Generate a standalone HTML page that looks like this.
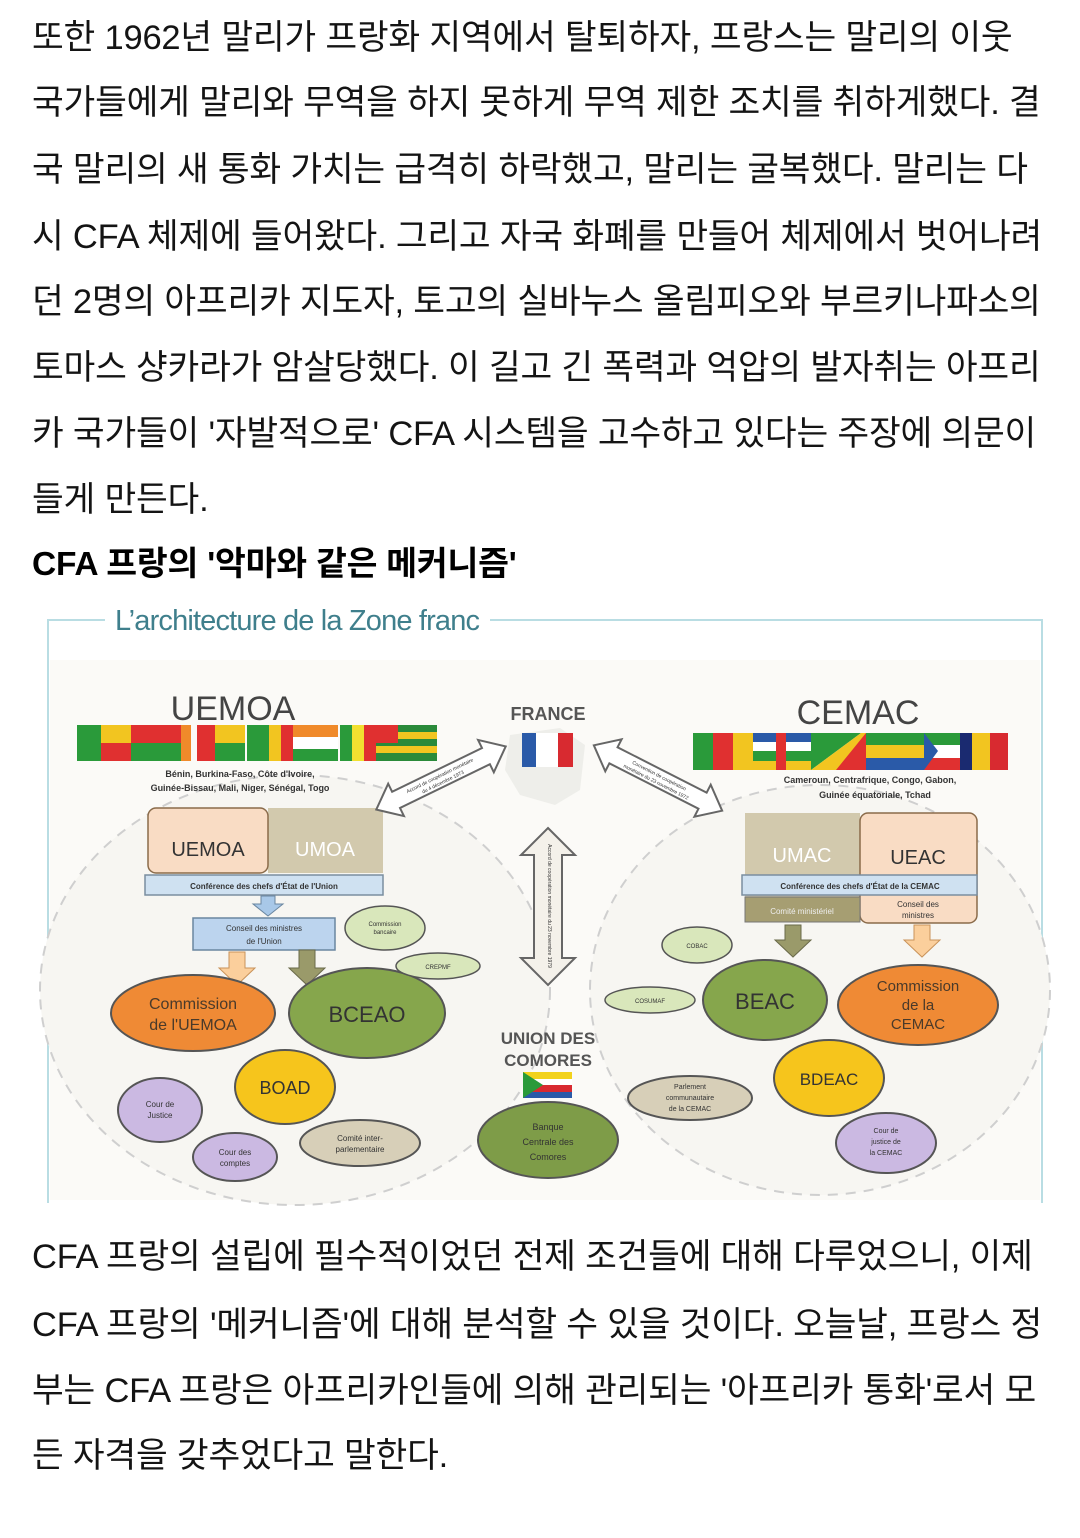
<!DOCTYPE html>
<html><head><meta charset="utf-8">
<style>
body{margin:0;width:1080px;height:1538px;background:#fff;position:relative;overflow:hidden;font-family:"Liberation Sans","Noto Sans CJK KR",sans-serif;}
.l{position:absolute;left:32px;white-space:nowrap;font-size:34.5px;line-height:66px;height:66px;color:#141414;letter-spacing:-0.2px}
.h{font-weight:bold;color:#000;font-size:33.5px}
svg{position:absolute;left:0;top:0}
</style></head><body>
<div class="l" style="top:5px">또한 1962년 말리가 프랑화 지역에서 탈퇴하자, 프랑스는 말리의 이웃</div>
<div class="l" style="top:70px">국가들에게 말리와 무역을 하지 못하게 무역 제한 조치를 취하게했다. 결</div>
<div class="l" style="top:137px">국 말리의 새 통화 가치는 급격히 하락했고, 말리는 굴복했다. 말리는 다</div>
<div class="l" style="top:204px">시 CFA 체제에 들어왔다. 그리고 자국 화폐를 만들어 체제에서 벗어나려</div>
<div class="l" style="top:269px">던 2명의 아프리카 지도자, 토고의 실바누스 올림피오와 부르키나파소의</div>
<div class="l" style="top:335px">토마스 샹카라가 암살당했다. 이 길고 긴 폭력과 억압의 발자취는 아프리</div>
<div class="l" style="top:401px">카 국가들이 '자발적으로' CFA 시스템을 고수하고 있다는 주장에 의문이</div>
<div class="l" style="top:467px">들게 만든다.</div>
<div class="l h" style="top:532px">CFA 프랑의 '악마와 같은 메커니즘'</div>

<svg width="1080" height="1538" viewBox="0 0 1080 1538" font-family="Liberation Sans, sans-serif">
<path d="M48 1203 V620 H105 M490 620 H1042 V1203" fill="none" stroke="#b9dde3" stroke-width="2"/>
<text x="115" y="630" font-size="29" fill="#3f7f8c" font-family="Liberation Sans Narrow, Liberation Sans, sans-serif" textLength="365">L’architecture de la Zone franc</text>
<rect x="50" y="660" width="990" height="540" fill="#fbfaf7"/>
<ellipse cx="295" cy="990" rx="255" ry="215" fill="#f7f6f2" stroke="#cfcfcf" stroke-width="2" stroke-dasharray="10 8"/>
<ellipse cx="820" cy="990" rx="230" ry="205" fill="#f7f6f2" stroke="#cfcfcf" stroke-width="2" stroke-dasharray="10 8"/>
<text x="233" y="720" font-size="34" fill="#444" text-anchor="middle">UEMOA</text>
<g>
<rect x="77" y="725" width="24" height="36" fill="#2a9a3a"/><rect x="101" y="725" width="30" height="18" fill="#f2c520"/><rect x="101" y="743" width="30" height="18" fill="#e03030"/>
<rect x="131" y="725" width="50" height="18" fill="#e03030"/><rect x="131" y="743" width="50" height="18" fill="#2a9a3a"/>
<rect x="181" y="725" width="10" height="36" fill="#f08a2a"/>
<rect x="197" y="725" width="18" height="36" fill="#e03030"/><rect x="215" y="725" width="30" height="18" fill="#f2c520"/><rect x="215" y="743" width="30" height="18" fill="#2a9a3a"/>
<rect x="247" y="725" width="22" height="36" fill="#2a9a3a"/><rect x="269" y="725" width="12" height="36" fill="#f2c520"/><rect x="281" y="725" width="12" height="36" fill="#e03030"/>
<rect x="293" y="725" width="45" height="12" fill="#f08a2a"/><rect x="293" y="737" width="45" height="12" fill="#fff"/><rect x="293" y="749" width="45" height="12" fill="#2a9a3a"/>
<rect x="340" y="725" width="12" height="36" fill="#2a9a3a"/><rect x="352" y="725" width="12" height="36" fill="#f2e030"/><rect x="364" y="725" width="12" height="36" fill="#e03030"/>
<rect x="376" y="725" width="61" height="36" fill="#2a8a3a"/><rect x="376" y="732" width="61" height="7" fill="#f2c520"/><rect x="376" y="746" width="61" height="7" fill="#f2c520"/><rect x="376" y="725" width="22" height="18" fill="#e03030"/>
</g>
<text x="240" y="777" font-size="9" font-weight="bold" fill="#333" text-anchor="middle">Bénin, Burkina-Faso, Côte d'Ivoire,</text>
<text x="240" y="791" font-size="9" font-weight="bold" fill="#333" text-anchor="middle">Guinée-Bissau, Mali, Niger, Sénégal, Togo</text>
<rect x="268" y="808" width="115" height="65" fill="#d2c9ad"/>
<rect x="148" y="808" width="120" height="65" rx="8" fill="#f9dcc4" stroke="#8a6b4a" stroke-width="1.5"/>
<text x="208" y="856" font-size="20" fill="#333" text-anchor="middle">UEMOA</text>
<text x="325" y="856" font-size="20" fill="#fff" text-anchor="middle">UMOA</text>
<rect x="145" y="875" width="238" height="20" fill="#cfe1f1" stroke="#7a8ea0" stroke-width="1.5"/>
<text x="264" y="889" font-size="8" font-weight="bold" fill="#333" text-anchor="middle">Conférence des chefs d'État de l'Union</text>
<path d="M261 896 h14 v8 h8 l-15 12 l-15 -12 h8z" fill="#a8c8e8" stroke="#6a86a0"/>
<rect x="193" y="918" width="142" height="32" fill="#bcd4ee" stroke="#6a86a0" stroke-width="1.5"/>
<text x="264" y="931" font-size="8" fill="#333" text-anchor="middle">Conseil des ministres</text>
<text x="264" y="944" font-size="8" fill="#333" text-anchor="middle">de l'Union</text>
<path d="M229 952 h16 v16 h10 l-18 17 l-18 -17 h10z" fill="#fbcf9c" stroke="#c9935a"/>
<path d="M299 950 h16 v18 h10 l-18 17 l-18 -17 h10z" fill="#9a9a6a" stroke="#6a6a4a"/>
<ellipse cx="193" cy="1013" rx="82" ry="38" fill="#ef8a35" stroke="#555" stroke-width="2"/>
<text x="193" y="1009" font-size="16" fill="#4a3a2a" text-anchor="middle">Commission</text>
<text x="193" y="1030" font-size="16" fill="#4a3a2a" text-anchor="middle">de l'UEMOA</text>
<ellipse cx="367" cy="1013" rx="78" ry="45" fill="#86a64c" stroke="#555" stroke-width="2"/>
<text x="367" y="1022" font-size="22" fill="#333" text-anchor="middle">BCEAO</text>
<ellipse cx="385" cy="928" rx="40" ry="22" fill="#d9e7bb" stroke="#555" stroke-width="1.5"/>
<text x="385" y="926" font-size="6" fill="#333" text-anchor="middle">Commission</text><text x="385" y="934" font-size="6" fill="#333" text-anchor="middle">bancaire</text>
<ellipse cx="438" cy="966" rx="42" ry="13" fill="#d9e7bb" stroke="#555" stroke-width="1.5"/>
<text x="438" y="969" font-size="6" fill="#333" text-anchor="middle">CREPMF</text>
<ellipse cx="285" cy="1087" rx="50" ry="37" fill="#f6c51c" stroke="#555" stroke-width="2"/>
<text x="285" y="1094" font-size="18" fill="#333" text-anchor="middle">BOAD</text>
<ellipse cx="160" cy="1110" rx="42" ry="32" fill="#cbb9e2" stroke="#555" stroke-width="2"/>
<text x="160" y="1107" font-size="8" fill="#333" text-anchor="middle">Cour de</text><text x="160" y="1118" font-size="8" fill="#333" text-anchor="middle">Justice</text>
<ellipse cx="235" cy="1157" rx="42" ry="24" fill="#cbb9e2" stroke="#555" stroke-width="2"/>
<text x="235" y="1155" font-size="8" fill="#333" text-anchor="middle">Cour des</text><text x="235" y="1166" font-size="8" fill="#333" text-anchor="middle">comptes</text>
<ellipse cx="360" cy="1143" rx="60" ry="23" fill="#d7cfb8" stroke="#555" stroke-width="2"/>
<text x="360" y="1141" font-size="8" fill="#333" text-anchor="middle">Comité inter-</text><text x="360" y="1152" font-size="8" fill="#333" text-anchor="middle">parlementaire</text>
<path d="M510 735 L560 728 L585 745 L580 790 L555 805 L520 795 L505 770z" fill="#eeeeea"/>
<text x="548" y="720" font-size="18" font-weight="bold" fill="#555" text-anchor="middle">FRANCE</text>
<rect x="522" y="733" width="14" height="34" fill="#2a5aa8"/><rect x="536" y="733" width="22" height="34" fill="#fff"/><rect x="558" y="733" width="15" height="34" fill="#d82a30"/>
<g transform="translate(441 778) rotate(-26)"><path d="M-72 0 l22 -18 v9 h100 v-9 l22 18 l-22 18 v-9 h-100 v9z" fill="#fff" stroke="#666" stroke-width="2"/><text x="0" y="-1" font-size="5" text-anchor="middle" fill="#333">Accord de coopération monétaire</text><text x="0" y="6" font-size="5" text-anchor="middle" fill="#333">du 4 décembre 1973</text></g>
<g transform="translate(658 778) rotate(27)"><path d="M-72 0 l22 -18 v9 h100 v-9 l22 18 l-22 18 v-9 h-100 v9z" fill="#fff" stroke="#666" stroke-width="2"/><text x="0" y="-1" font-size="5" text-anchor="middle" fill="#333">Convention de coopération</text><text x="0" y="6" font-size="5" text-anchor="middle" fill="#333">monétaire du 23 novembre 1972</text></g>
<path d="M548 828 l27 27 h-13 v103 h13 l-27 27 l-27 -27 h13 v-103 h-13z" fill="#f4f1ea" stroke="#666" stroke-width="2"/>
<text transform="translate(548 906) rotate(90)" font-size="5" text-anchor="middle" fill="#333">Accord de coopération monétaire du 23 novembre 1979</text>
<text x="548" y="1044" font-size="17" font-weight="bold" fill="#555" text-anchor="middle">UNION DES</text>
<text x="548" y="1066" font-size="17" font-weight="bold" fill="#555" text-anchor="middle">COMORES</text>
<rect x="523" y="1072" width="49" height="7" fill="#f2d21c"/><rect x="523" y="1079" width="49" height="6" fill="#fff"/><rect x="523" y="1085" width="49" height="7" fill="#d82a30"/><rect x="523" y="1092" width="49" height="6" fill="#2a5aa8"/>
<path d="M523 1072 l20 13 l-20 13z" fill="#2a9a3a"/>
<ellipse cx="548" cy="1140" rx="70" ry="38" fill="#7e9c48" stroke="#555" stroke-width="2"/>
<text x="548" y="1130" font-size="9" fill="#333" text-anchor="middle">Banque</text><text x="548" y="1145" font-size="9" fill="#333" text-anchor="middle">Centrale des</text><text x="548" y="1160" font-size="9" fill="#333" text-anchor="middle">Comores</text>
<text x="858" y="724" font-size="34" fill="#444" text-anchor="middle">CEMAC</text>
<g>
<rect x="693" y="733" width="20" height="37" fill="#2a9a3a"/><rect x="713" y="733" width="20" height="37" fill="#e03030"/><rect x="733" y="733" width="20" height="37" fill="#f2c520"/>
<rect x="753" y="733" width="58" height="9" fill="#2a5aa8"/><rect x="753" y="742" width="58" height="9" fill="#fff"/><rect x="753" y="751" width="58" height="10" fill="#2a9a3a"/><rect x="753" y="761" width="58" height="9" fill="#f2c520"/><rect x="776" y="733" width="10" height="37" fill="#e03030"/>
<path d="M811 733 h50 l-50 37z" fill="#2a9a3a"/><path d="M861 733 h5 v37 h-55z" fill="#f2c520"/><path d="M866 733 v37 h-30z" fill="#e03030"/>
<rect x="866" y="733" width="58" height="12" fill="#2a9a3a"/><rect x="866" y="745" width="58" height="13" fill="#f2c520"/><rect x="866" y="758" width="58" height="12" fill="#2a5aa8"/>
<rect x="924" y="733" width="46" height="12" fill="#2a9a3a"/><rect x="924" y="745" width="46" height="13" fill="#fff"/><rect x="924" y="758" width="46" height="12" fill="#e03030"/><path d="M924 733 l14 18 l-14 19z" fill="#2a5aa8"/>
<rect x="960" y="733" width="12" height="37" fill="#1a2a70"/><rect x="972" y="733" width="18" height="37" fill="#f2c520"/><rect x="990" y="733" width="18" height="37" fill="#d82a30"/>
</g>
<text x="870" y="783" font-size="9" font-weight="bold" fill="#333" text-anchor="middle">Cameroun, Centrafrique, Congo, Gabon,</text>
<text x="875" y="798" font-size="9" font-weight="bold" fill="#333" text-anchor="middle">Guinée équatoriale, Tchad</text>
<rect x="745" y="813" width="115" height="85" fill="#d2c9ad"/>
<rect x="860" y="813" width="117" height="110" rx="8" fill="#f9dcc4" stroke="#8a6b4a" stroke-width="1.5"/>
<text x="802" y="862" font-size="20" fill="#fff" text-anchor="middle">UMAC</text>
<text x="918" y="864" font-size="20" fill="#333" text-anchor="middle">UEAC</text>
<rect x="742" y="875" width="235" height="20" fill="#cfe1f1" stroke="#7a8ea0" stroke-width="1.5"/>
<text x="860" y="889" font-size="8" font-weight="bold" fill="#333" text-anchor="middle">Conférence des chefs d'État de la CEMAC</text>
<rect x="745" y="897" width="115" height="25" fill="#a69e72" stroke="#777" stroke-width="1"/>
<text x="802" y="914" font-size="8" fill="#eee" text-anchor="middle">Comité ministériel</text>
<text x="918" y="907" font-size="8" fill="#333" text-anchor="middle">Conseil des</text><text x="918" y="918" font-size="8" fill="#333" text-anchor="middle">ministres</text>
<path d="M785 925 h16 v15 h10 l-18 17 l-18 -17 h10z" fill="#9a9a6a" stroke="#6a6a4a"/>
<path d="M914 925 h16 v15 h10 l-18 17 l-18 -17 h10z" fill="#fbcf9c" stroke="#c9935a"/>
<ellipse cx="697" cy="945" rx="35" ry="18" fill="#d9e7bb" stroke="#555" stroke-width="1.5"/>
<text x="697" y="948" font-size="6" fill="#333" text-anchor="middle">COBAC</text>
<ellipse cx="650" cy="1000" rx="45" ry="13" fill="#d9e7bb" stroke="#555" stroke-width="1.5"/>
<text x="650" y="1003" font-size="6" fill="#333" text-anchor="middle">COSUMAF</text>
<ellipse cx="765" cy="1000" rx="62" ry="40" fill="#86a64c" stroke="#555" stroke-width="2"/>
<text x="765" y="1009" font-size="22" fill="#333" text-anchor="middle">BEAC</text>
<ellipse cx="918" cy="1005" rx="80" ry="40" fill="#ef8a35" stroke="#555" stroke-width="2"/>
<text x="918" y="991" font-size="15" fill="#4a3a2a" text-anchor="middle">Commission</text>
<text x="918" y="1010" font-size="15" fill="#4a3a2a" text-anchor="middle">de la</text>
<text x="918" y="1029" font-size="15" fill="#4a3a2a" text-anchor="middle">CEMAC</text>
<ellipse cx="829" cy="1078" rx="55" ry="38" fill="#f6c51c" stroke="#555" stroke-width="2"/>
<text x="829" y="1085" font-size="17" fill="#333" text-anchor="middle">BDEAC</text>
<ellipse cx="690" cy="1098" rx="62" ry="22" fill="#d7cfb8" stroke="#555" stroke-width="2"/>
<text x="690" y="1089" font-size="7" fill="#333" text-anchor="middle">Parlement</text><text x="690" y="1100" font-size="7" fill="#333" text-anchor="middle">communautaire</text><text x="690" y="1111" font-size="7" fill="#333" text-anchor="middle">de la CEMAC</text>
<ellipse cx="886" cy="1143" rx="50" ry="30" fill="#cbb9e2" stroke="#555" stroke-width="2"/>
<text x="886" y="1133" font-size="7" fill="#333" text-anchor="middle">Cour de</text><text x="886" y="1144" font-size="7" fill="#333" text-anchor="middle">justice de</text><text x="886" y="1155" font-size="7" fill="#333" text-anchor="middle">la CEMAC</text>
</svg>

<div class="l" style="top:1224px">CFA 프랑의 설립에 필수적이었던 전제 조건들에 대해 다루었으니, 이제</div>
<div class="l" style="top:1292px">CFA 프랑의 '메커니즘'에 대해 분석할 수 있을 것이다. 오늘날, 프랑스 정</div>
<div class="l" style="top:1358px">부는 CFA 프랑은 아프리카인들에 의해 관리되는 '아프리카 통화'로서 모</div>
<div class="l" style="top:1423px">든 자격을 갖추었다고 말한다.</div>
</body></html>
